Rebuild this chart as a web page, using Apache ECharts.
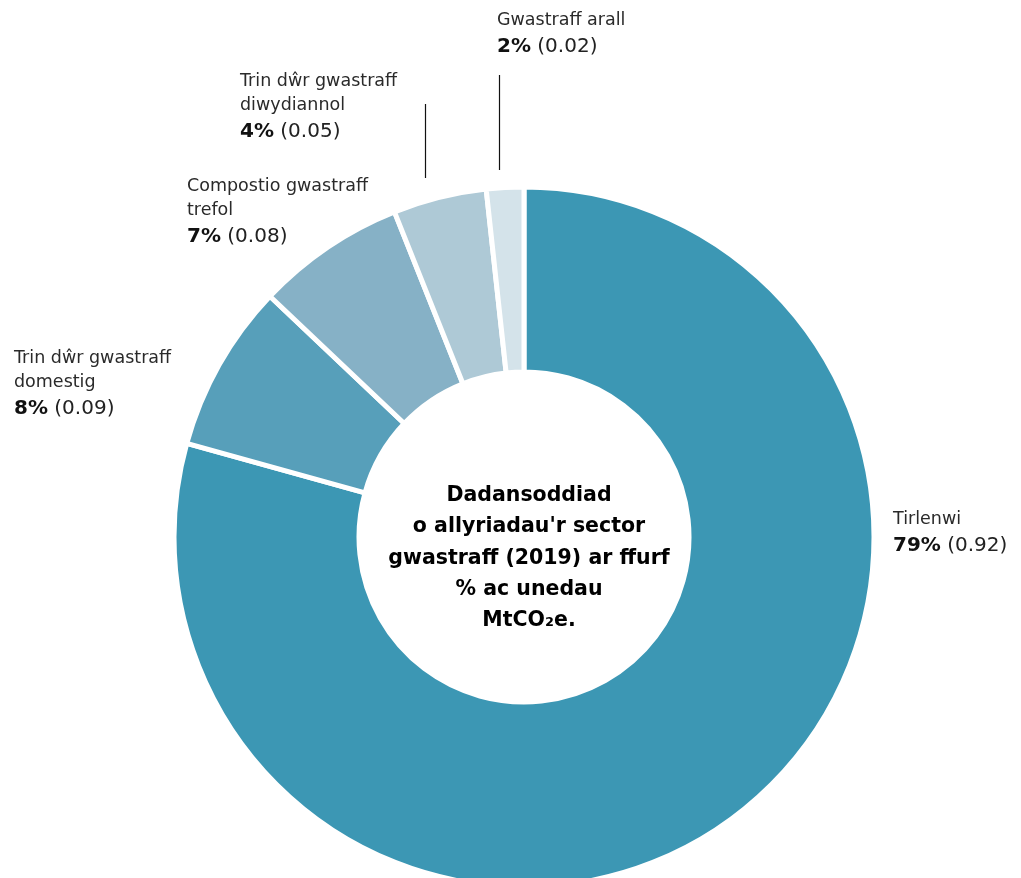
<!DOCTYPE html>
<html>
<head>
<meta charset="utf-8">
<script src="https://cdn.jsdelivr.net/npm/echarts@6/dist/echarts.min.js"></script>
<style>
  html, body { margin: 0; padding: 0; background: #fff; }
  #chart { width: 1021px; height: 878px; }
</style>
</head>
<body>
<div id="chart"></div>
<script>
// emissions by waste sub-sector, MtCO2e (2019)
const sectorNames = [
  'Tirlenwi',
  'Trin dŵr gwastraff\ndomestig',
  'Compostio gwastraff\ntrefol',
  'Trin dŵr gwastraff\ndiwydiannol',
  'Gwastraff arall'
];
const sectorValues = [0.92, 0.09, 0.08, 0.05, 0.02];
const sectorColors = ['#3c97b4', '#579fba', '#86b1c6', '#aec9d6', '#d4e3ea'];

// where each label sits (top-left corner)
const labelPos = [
  [893, 507],
  [14, 346],
  [187, 174],
  [240, 69],
  [497, 8]
];

const FONT = '"DejaVu Sans", "Liberation Sans", sans-serif';

const chart = echarts.init(document.getElementById('chart'));

const pieData = sectorNames.map((name, i) => ({
  name: name,
  value: sectorValues[i],
  itemStyle: { color: sectorColors[i] }
}));

chart.setOption({
  animation: false,
  title: {
    text: 'Dadansoddiad\no allyriadau\'r sector\ngwastraff (2019) ar ffurf\n% ac unedau\nMtCO₂e.',
    left: 524,
    top: 475,
    textAlign: 'center',
    textStyle: {
      fontFamily: FONT,
      fontWeight: 'bold',
      fontSize: 20.5,
      lineHeight: 31.3,
      color: '#000',
      align: 'center'
    }
  },
  series: [
    {
      type: 'pie',
      center: [524, 537],
      radius: [165, 350],
      startAngle: 90,
      clockwise: true,
      silent: true,
      itemStyle: {
        borderColor: '#fff',
        borderWidth: 5
      },
      label: {
        show: true,
        overflow: 'none',
        width: 300,
        fontFamily: FONT,
        formatter: (p) => `{n|${p.name}}\n{p|${Math.round(p.percent)}%}{v| (${p.value.toFixed(2)})}`,
        rich: {
          n: { fontFamily: FONT, fontSize: 17.5, lineHeight: 24, color: '#2a2a2a' },
          p: { fontFamily: FONT, fontSize: 20, lineHeight: 30, fontWeight: 'bold', color: '#111' },
          v: { fontFamily: FONT, fontSize: 20, lineHeight: 30, color: '#222' }
        }
      },
      labelLine: { show: false },
      labelLayout: (params) => ({
        x: labelPos[params.dataIndex][0],
        y: labelPos[params.dataIndex][1],
        align: 'left',
        verticalAlign: 'top',
        hideOverlap: false
      }),
      data: pieData
    }
  ],
  graphic: [
    {
      type: 'line',
      shape: { x1: 425.5, y1: 104, x2: 425.5, y2: 178 },
      style: { stroke: '#111', lineWidth: 1.2 }
    },
    {
      type: 'line',
      shape: { x1: 499.5, y1: 75, x2: 499.5, y2: 170 },
      style: { stroke: '#111', lineWidth: 1.2 }
    }
  ]
});
</script>
</body>
</html>
